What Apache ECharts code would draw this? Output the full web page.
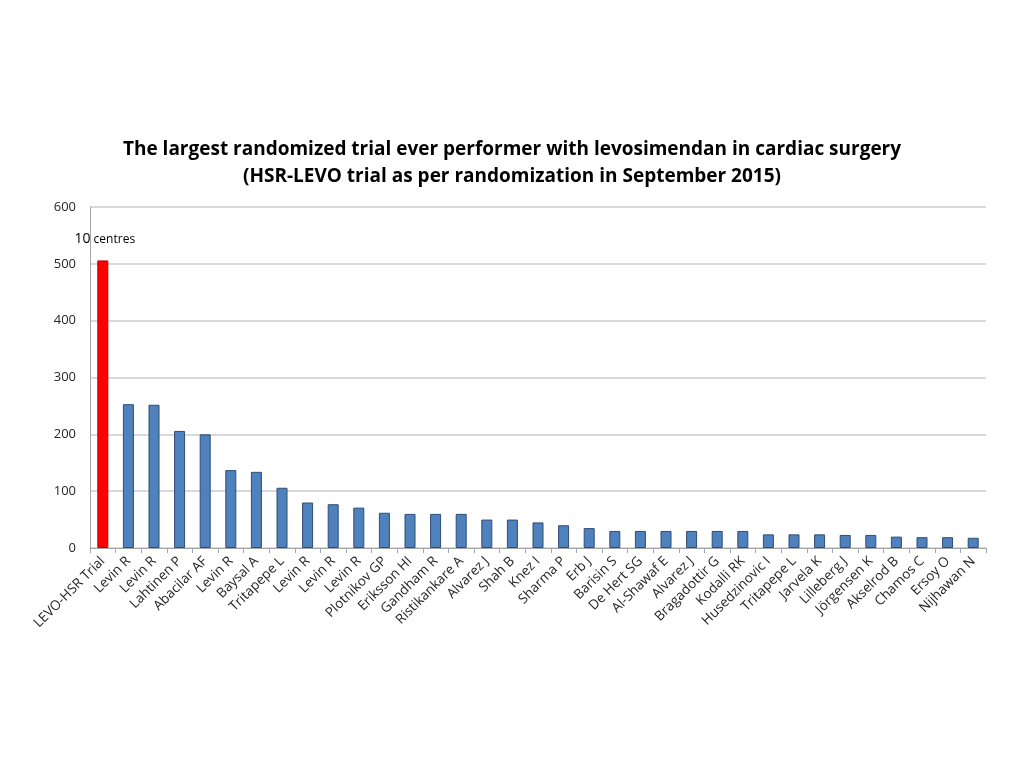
<!DOCTYPE html>
<html><head><meta charset="utf-8">
<script src="https://cdn.jsdelivr.net/npm/echarts@6/dist/echarts.min.js"></script>
<style>html,body{margin:0;padding:0;background:#fff}#c{width:1024px;height:768px}</style>
</head><body><div id="c"></div>
<script>
const categories = ["LEVO-HSR Trial","Levin R","Levin R","Lahtinen P","Abacilar AF","Levin R","Baysal A","Tritapepe L","Levin R","Levin R","Levin R","Plotnikov GP","Eriksson HI","Gandham R","Ristikankare A","Alvarez J","Shah B","Knez I","Sharma P","Erb J","Barisin S","De Hert SG","Al-Shawaf E","Alvarez J","Bragadottir G","Kodalli RK","Husedzinovic I","Tritapepe L","Jarvela K","Lilleberg J","Jörgensen K","Akselrod B","Chamos C","Ersoy O","Nijhawan N"];
const patients = [506,253,252,206,200,137,134,106,80,77,71,62,60,60,60,50,50,45,40,35,30,30,30,30,30,30,24,24,24,23,23,20,19,19,18];
const yTicks = [0,100,200,300,400,500,600];
const titleLines = ["The largest randomized trial ever performer with levosimendan in cardiac surgery","(HSR-LEVO trial as per randomization in September 2015)"];
const annotation = ["10","centres"];

const font = "Open Sans";
const data = patients.map((v,i)=> i===0 ? {
  value:v,
  itemStyle:{color:'#ff0000',borderColor:'#c00000',borderWidth:1},
  label:{show:true,position:'top',distance:14,offset:[2,0],
    formatter:'{a|'+annotation[0]+'}{b| '+annotation[1]+'}',
    rich:{a:{fontSize:14,color:'#000',fontFamily:font},b:{fontSize:12,color:'#000',fontFamily:font}}}
} : v);

const chart = echarts.init(document.getElementById('c'));
chart.setOption({
  animation:false,
  title:{text:titleLines.join('\n'),left:'center',top:131,
    textStyle:{fontFamily:font,fontSize:19,fontWeight:'bold',color:'#000',lineHeight:27}},
  grid:{left:90,right:38,top:207,bottom:220},
  xAxis:{type:'category',data:categories,
    axisLine:{lineStyle:{color:'#a6a6a6',width:1}},
    axisTick:{show:true,alignWithLabel:false,length:5,lineStyle:{color:'#a6a6a6'}},
    axisLabel:{interval:0,rotate:45,fontFamily:font,fontSize:13.5,color:'#262626',margin:11}},
  yAxis:{type:'value',min:yTicks[0],max:yTicks[yTicks.length-1],interval:100,
    axisLine:{show:true,lineStyle:{color:'#a6a6a6'}},
    axisTick:{show:false},
    axisLabel:{fontFamily:font,fontSize:13,color:'#262626',margin:14},
    splitLine:{lineStyle:{color:'#cccccc',width:1.5}}},
  series:[{type:'bar',data:data,barWidth:11,
    itemStyle:{color:'#4f81bd',borderColor:'#2c4d75',borderWidth:1}}]
});
</script></body></html>
